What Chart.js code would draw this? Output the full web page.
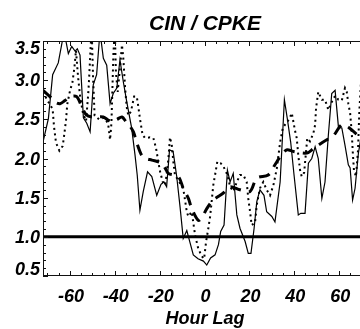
<!DOCTYPE html>
<html lang="en">
<head>
    <meta charset="UTF-8">
    <title>CIN / CPKE</title>
    <style>
        body {
            margin: 0;
            background: white;
            overflow: hidden;
        }
        canvas {
            display: block;
        }
    </style>
    <script src="https://cdn.jsdelivr.net/npm/chart.js"></script>
</head>
<body>

<canvas id="lagChart" width="360" height="329"></canvas>

<script>
    // Values (hour lag -> ratio)
    const solidHours = [-72.0, -69.6, -67.7, -65.2, -62.6, -60.7, -59.2, -57.7, -56.7, -55.5, -54.0, -52.5, -51.0, -49.6, -48.1, -46.6, -45.1, -43.6, -42.1, -40.7, -39.1, -37.7, -36.2, -34.7, -32.5, -31.0, -30.0, -28.8, -27.3, -25.4, -23.5, -21.3, -19.4, -18.1, -16.9, -15.6, -14.0, -12.4, -10.9, -9.5, -7.9, -6.5, -5.0, -2.9, -0.5, 1.0, 2.7, 4.7, 6.2, 7.2, 8.7, 10.2, 11.4, 12.8, 14.4, 15.8, 18.1, 19.5, 20.7, 22.1, 23.3, 24.7, 26.5, 27.7, 30.0, 31.4, 33.7, 35.6, 36.9, 38.4, 39.9, 41.8, 42.9, 44.8, 46.3, 47.8, 49.3, 50.7, 52.3, 53.7, 55.2, 56.7, 58.2, 59.7, 61.2, 62.6, 64.1, 64.9, 66.0, 67.1, 68.6, 70.2];
    const solidValues = [2.21, 2.51, 3.07, 3.22, 3.62, 3.34, 3.43, 3.37, 3.40, 3.32, 2.52, 2.45, 2.34, 2.94, 3.07, 3.62, 3.28, 3.19, 2.70, 2.83, 2.90, 3.26, 2.98, 2.73, 2.39, 2.05, 1.79, 1.34, 1.58, 1.83, 1.77, 1.53, 1.67, 1.70, 1.64, 2.11, 2.09, 1.77, 1.38, 0.98, 1.08, 0.93, 0.77, 0.72, 0.69, 0.64, 0.73, 0.77, 0.90, 1.07, 1.15, 1.85, 1.70, 1.81, 1.28, 1.11, 0.94, 0.79, 0.79, 1.11, 1.45, 1.60, 1.53, 1.32, 1.26, 1.19, 1.70, 2.75, 2.51, 2.21, 1.79, 1.28, 1.30, 1.30, 1.94, 2.00, 2.15, 2.00, 1.49, 1.70, 2.30, 2.83, 2.87, 2.40, 2.39, 2.17, 1.92, 1.88, 1.47, 1.62, 2.07, 2.35];

    const dottedHours = [-72.0, -70.2, -67.7, -67.1, -66.2, -64.7, -63.2, -62.6, -61.7, -61.2, -60.0, -58.9, -58.0, -57.3, -56.4, -55.5, -54.2, -52.8, -51.8, -51.4, -50.7, -50.3, -49.7, -49.0, -47.0, -44.8, -43.0, -42.1, -41.5, -41.0, -40.6, -40.0, -39.5, -38.7, -37.7, -36.8, -36.2, -35.4, -34.7, -34.0, -32.8, -31.4, -30.2, -29.5, -28.8, -27.6, -26.5, -24.3, -22.8, -21.6, -20.6, -19.8, -18.6, -17.6, -16.9, -16.1, -15.4, -14.6, -13.9, -13.2, -11.7, -9.5, -7.9, -7.2, -5.7, -4.2, -2.8, -1.2, -0.2, 0.7, 1.7, 2.5, 3.9, 4.7, 5.7, 7.2, 8.4, 10.2, 11.4, 12.8, 14.4, 15.8, 17.3, 18.8, 19.5, 20.3, 21.0, 22.5, 23.3, 24.7, 26.2, 27.7, 29.2, 30.7, 32.2, 33.7, 34.9, 36.3, 37.7, 38.9, 40.3, 41.1, 41.8, 42.6, 43.3, 44.4, 45.8, 47.0, 48.5, 49.3, 49.7, 50.7, 52.3, 53.7, 55.2, 56.7, 58.2, 59.7, 61.2, 62.6, 63.4, 64.1, 64.9, 65.6, 66.1, 66.6, 67.5, 68.4, 69.0, 70.0];
    const dottedValues = [2.85, 2.75, 2.63, 2.41, 2.20, 2.10, 2.16, 2.29, 2.50, 2.69, 2.86, 2.97, 3.16, 3.38, 3.05, 2.80, 2.58, 2.48, 2.84, 3.05, 3.46, 3.65, 3.05, 2.55, 2.50, 2.52, 2.45, 2.24, 2.45, 2.95, 3.35, 3.65, 3.10, 2.85, 3.15, 3.45, 3.28, 2.90, 2.66, 2.55, 2.60, 2.79, 2.79, 2.66, 2.51, 2.30, 2.26, 2.27, 2.26, 2.13, 1.96, 1.83, 1.70, 1.66, 1.79, 2.00, 2.27, 2.17, 1.96, 1.79, 1.72, 1.62, 1.32, 1.26, 1.32, 1.02, 0.85, 0.75, 0.72, 0.94, 1.11, 1.26, 1.66, 1.79, 1.96, 1.94, 1.90, 1.79, 1.64, 1.58, 1.70, 1.79, 1.79, 1.70, 1.49, 1.32, 1.15, 1.18, 1.41, 1.62, 1.70, 1.60, 1.53, 1.66, 1.87, 2.21, 2.39, 2.45, 2.50, 2.58, 2.36, 2.26, 2.04, 1.85, 1.77, 1.82, 2.26, 2.22, 2.32, 2.43, 2.64, 2.85, 2.75, 2.75, 2.62, 2.72, 2.80, 2.75, 2.74, 2.90, 2.85, 2.70, 2.58, 2.34, 2.07, 1.85, 1.77, 2.10, 2.60, 3.10];

    const dashedHours = [-72.0, -68.9, -66.7, -64.4, -62.2, -60.0, -57.0, -54.7, -52.8, -50.2, -45.1, -43.0, -41.2, -39.0, -36.8, -35.0, -33.2, -31.7, -30.2, -28.0, -26.1, -23.5, -19.1, -17.6, -16.1, -11.7, -9.5, -7.2, -5.7, -2.8, -1.1, 1.0, 3.9, 8.4, 11.4, 15.8, 20.3, 23.3, 28.4, 31.4, 33.7, 36.6, 39.6, 45.6, 48.7, 54.5, 56.7, 61.2, 64.1, 68.6, 70.2];
    const dashedValues = [2.87, 2.79, 2.72, 2.70, 2.74, 2.79, 2.79, 2.66, 2.56, 2.53, 2.53, 2.49, 2.47, 2.50, 2.53, 2.47, 2.41, 2.34, 2.20, 2.04, 2.00, 1.98, 1.94, 1.88, 1.81, 1.77, 1.62, 1.49, 1.36, 1.21, 1.25, 1.36, 1.47, 1.56, 1.64, 1.60, 1.58, 1.75, 1.79, 1.92, 2.02, 2.11, 2.09, 2.07, 2.13, 2.24, 2.26, 2.43, 2.40, 2.29, 2.25];

    const refValue = 1.0;
    const xTicks = [-60, -40, -20, 0, 20, 40, 60];
    const yTicks = ['0.5', '1.0', '1.5', '2.0', '2.5', '3.0', '3.5'];

    const xMin = -72, xMax = 69.3;
    const yMin = 0.5, yMax = 3.5;

    function toPoints(xs, ys) {
        return xs.map((x, i) => ({ x: x, y: ys[i] }));
    }

    const FONT = '"Liberation Sans", Arial, sans-serif';

    // axes, inward ticks and labels, drawn from the chart's own scales
    const framePlugin = {
        id: 'frame',
        afterDraw(chart) {
            const ctx = chart.ctx;
            const a = chart.chartArea;
            const xs = chart.scales.x;
            const ys = chart.scales.y;
            ctx.save();
            ctx.strokeStyle = '#111';
            ctx.lineWidth = 1;

            ctx.beginPath();
            ctx.moveTo(a.left + 0.5, a.top);
            ctx.lineTo(a.left + 0.5, a.bottom);
            ctx.moveTo(a.left, a.top + 0.5);
            ctx.lineTo(a.right, a.top + 0.5);
            ctx.moveTo(a.left, a.bottom - 0.5);
            ctx.lineTo(a.right, a.bottom - 0.5);

            // x ticks every 5 hours, major every 20
            for (let h = -70; h <= 70; h += 5) {
                const px = Math.round(xs.getPixelForValue(h)) + 0.5;
                if (px < a.left || px > a.right) continue;
                const len = (h % 20 === 0) ? 5 : 3;
                ctx.moveTo(px, a.bottom);
                ctx.lineTo(px, a.bottom - len);
                ctx.moveTo(px, a.top);
                ctx.lineTo(px, a.top + len);
            }
            // y ticks every 0.1, major every 0.5
            for (let k = 5; k <= 35; k++) {
                const py = Math.round(ys.getPixelForValue(k / 10)) + 0.5;
                const len = (k % 5 === 0) ? 5 : 3;
                ctx.moveTo(a.left, py);
                ctx.lineTo(a.left + len, py);
            }
            ctx.stroke();

            ctx.fillStyle = '#000';
            ctx.font = 'italic bold 18px ' + FONT;
            ctx.textBaseline = 'alphabetic';

            ctx.textAlign = 'center';
            xTicks.forEach(v => {
                ctx.fillText(String(v), xs.getPixelForValue(v) + 1, 302);
            });

            ctx.textAlign = 'right';
            yTicks.forEach(t => {
                let py = ys.getPixelForValue(parseFloat(t));
                py = Math.min(Math.max(py, a.top + 7), a.bottom - 7);
                ctx.fillText(t, 40, py + 6);
            });

            ctx.textAlign = 'center';
            ctx.font = 'italic bold 18px ' + FONT;
            ctx.fillText('Hour Lag', 205, 324);

            ctx.font = 'italic bold 21px ' + FONT;
            ctx.fillText('CIN / CPKE', 205, 30);
            ctx.restore();
        }
    };

    const ctx = document.getElementById('lagChart').getContext('2d');
    const lagChart = new Chart(ctx, {
        type: 'line',
        data: {
            datasets: [
                {
                    label: 'ref',
                    data: toPoints([xMin, xMax], [refValue, refValue]),
                    borderColor: '#000',
                    borderWidth: 3,
                    pointRadius: 0,
                    clip: 0
                },
                {
                    label: 'solid',
                    data: toPoints(solidHours, solidValues),
                    borderColor: '#000',
                    borderWidth: 1.2,
                    pointRadius: 0,
                    tension: 0,
                    clip: 0
                },
                {
                    label: 'dotted',
                    data: toPoints(dottedHours, dottedValues),
                    borderColor: '#000',
                    borderWidth: 2,
                    borderDash: [2, 3.5],
                    pointRadius: 0,
                    tension: 0,
                    clip: 0
                },
                {
                    label: 'dashed',
                    data: toPoints(dashedHours, dashedValues),
                    borderColor: '#000',
                    borderWidth: 3,
                    borderDash: [11, 8],
                    pointRadius: 0,
                    tension: 0.3,
                    clip: 0
                }
            ]
        },
        options: {
            responsive: false,
            animation: false,
            layout: {
                padding: { left: 43, top: 41, right: 0, bottom: 53 }
            },
            plugins: {
                legend: { display: false },
                tooltip: { enabled: false }
            },
            scales: {
                x: { type: 'linear', min: xMin, max: xMax, display: false },
                y: { type: 'linear', min: yMin, max: yMax, display: false }
            }
        },
        plugins: [framePlugin]
    });
</script>

</body>
</html>
